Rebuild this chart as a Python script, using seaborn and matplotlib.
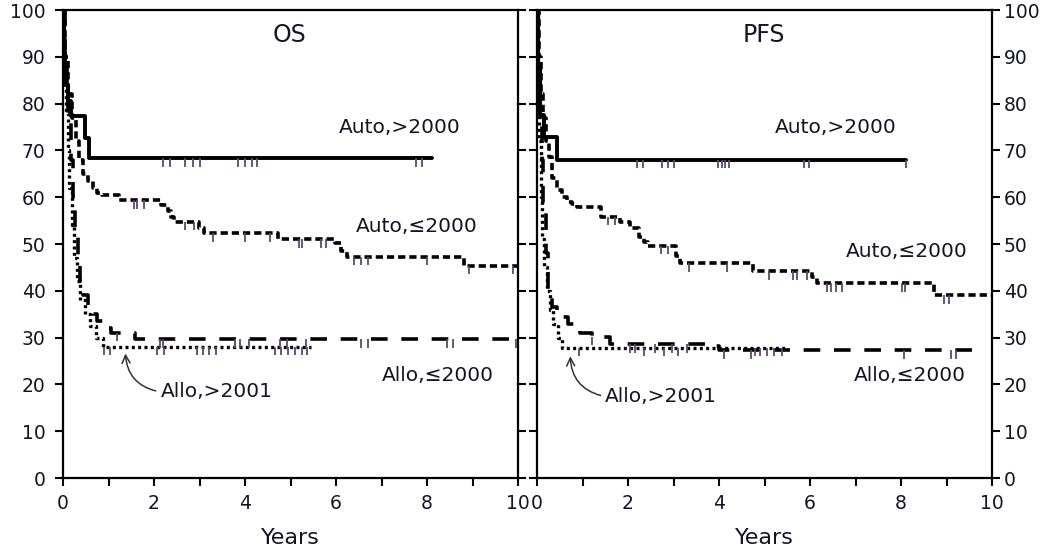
import numpy as np
import pandas as pd
import matplotlib
matplotlib.use("Agg")
import matplotlib.pyplot as plt
from matplotlib.path import Path
import seaborn as sns

# ---------------- data ----------------
years_ticks = [0, 2, 4, 6, 8, 10]
pct_ticks = [0, 10, 20, 30, 40, 50, 60, 70, 80, 90, 100]

# OS panel
os_auto_new_t = [0, 0.02, 0.05, 0.10, 0.18, 0.48, 0.58, 8.12]
os_auto_new_s = [100, 90, 84, 80.5, 77.3, 72.7, 68.3, 68.3]
os_auto_new_c = [2.2, 2.35, 2.69, 2.85, 3.02, 3.85, 4.0, 4.15, 4.27, 7.75, 7.88]

os_auto_old_t = [0, 0.05, 0.12, 0.2, 0.28, 0.35, 0.45, 0.55, 0.65, 0.75, 0.85, 1.22, 2.15,
                 2.3, 2.38, 2.45, 2.98, 3.1, 4.72, 5.98, 6.1, 6.25, 8.82, 10.0]
os_auto_old_s = [100, 90, 82, 77, 72, 68, 65, 63.5, 62, 61, 60.5, 59.4, 58.3,
                 57, 55.8, 54.8, 53.4, 52.3, 51.0, 50.2, 48.5, 47.3, 45.4, 45.4]
os_auto_old_c = [1.55, 1.62, 1.77, 2.69, 2.87, 3.3, 4.0, 4.56, 5.19, 5.26, 5.67, 5.78,
                 6.4, 6.55, 6.7, 8.0, 8.93, 9.9]

os_allo_old_t = [0, 0.04, 0.08, 0.12, 0.17, 0.22, 0.27, 0.32, 0.38, 0.45, 0.55, 0.65,
                 0.75, 0.88, 1.05, 1.58, 10.0]
os_allo_old_s = [100, 90, 82, 76, 68, 60, 52, 46, 42, 39, 37, 35, 33.5, 32, 31, 29.6, 29.6]
os_allo_old_c = [1.18, 2.14, 2.2, 3.78, 3.9, 4.08, 4.78, 4.93, 5.35, 6.55, 6.7, 8.45, 8.58, 9.96]

os_allo_new_t = [0, 0.03, 0.06, 0.1, 0.14, 0.19, 0.24, 0.3, 0.38, 0.48, 0.6, 0.72, 0.87, 5.44]
os_allo_new_s = [100, 88, 78, 70, 62, 54, 47, 42, 38, 35, 32.5, 30, 28, 28]
os_allo_new_c = [0.9, 1.03, 2.07, 2.22, 2.94, 3.07, 3.2, 3.36, 4.67, 4.8, 4.95, 5.1, 5.25, 5.37]

# PFS panel
pfs_auto_new_t = [0, 0.03, 0.06, 0.15, 0.44, 8.12]
pfs_auto_new_s = [100, 88, 77.5, 72.9, 68.0, 68.0]
pfs_auto_new_c = [2.2, 2.33, 2.75, 2.88, 3.0, 3.98, 4.06, 4.14, 4.22, 5.86, 5.98, 8.12]

pfs_auto_old_t = [0, 0.04, 0.08, 0.14, 0.2, 0.27, 0.33, 0.45, 0.55, 0.65, 0.78, 0.88, 1.4,
                  1.82, 2.04, 2.25, 2.35, 2.45, 3.05, 3.15, 4.75, 6.05, 6.15, 8.72, 10.0]
pfs_auto_old_s = [100, 90, 82, 77, 72, 68.5, 64, 61.5, 60, 59, 58.5, 58, 55.8,
                  54.8, 53.4, 51.5, 50.5, 49.6, 47.5, 45.9, 44.2, 43, 41.6, 39.1, 39.1]
pfs_auto_old_c = [1.57, 1.71, 2.72, 2.88, 3.33, 4.17, 5.1, 5.63, 5.72, 5.93, 6.37, 6.46,
                  6.57, 6.7, 8.02, 8.08, 8.95, 9.06]

pfs_allo_old_t = [0, 0.03, 0.06, 0.1, 0.14, 0.19, 0.25, 0.32, 0.45, 0.68, 0.95, 1.2, 1.6,
                  3.85, 4.0, 9.75]
pfs_allo_old_s = [100, 88, 78, 68, 58, 48, 40, 36.5, 34.5, 33, 31, 30.2, 28.6, 28.2, 27.3, 27.3]
pfs_allo_old_c = [1.21, 2.05, 2.15, 2.6, 2.97, 3.3, 4.1, 4.7, 8.06, 9.1, 9.2]

pfs_allo_new_t = [0, 0.02, 0.05, 0.08, 0.12, 0.16, 0.21, 0.28, 0.36, 0.46, 0.55, 5.45]
pfs_allo_new_s = [100, 86, 72, 60, 51, 45, 40, 36, 33, 30, 27.8, 27.8]
pfs_allo_new_c = [0.93, 2.35, 2.8, 3.1, 4.8, 4.9, 5.05, 5.2, 5.38]

titles = ["OS", "PFS"]
lab_auto_new = "Auto,>2000"
lab_auto_old = "Auto,\u22642000"
lab_allo_old = "Allo,\u22642000"
lab_allo_new = "Allo,>2001"

# ---------------- styling ----------------
sns.set_style("ticks")
plt.rcParams["font.family"] = ["DejaVu Sans"]
plt.rcParams["axes.linewidth"] = 1.6

INK = "black"
TXT = "#141428"
CENS = "#5f4870"
widths = {"auto_new": 2.8, "auto_old": 2.6, "allo_old": 2.6, "allo_new": 2.4}
styles = {
    "auto_new": "-",
    "auto_old": (0, (2.0, 1.1)),
    "allo_old": (0, (4.6, 3.8)),
    "allo_new": (0, (0.9, 1.0)),
}
hang = Path([(0, 0), (0, -1)], [Path.MOVETO, Path.LINETO])

fig = plt.figure(figsize=(10.5, 5.48), dpi=100)
ax1 = fig.add_axes([63 / 1050, 1 - 478 / 548, 455 / 1050, 468 / 548])
ax2 = fig.add_axes([537 / 1050, 1 - 478 / 548, 455 / 1050, 468 / 548])

panels = [
    (ax1, [("auto_new", os_auto_new_t, os_auto_new_s, os_auto_new_c),
           ("auto_old", os_auto_old_t, os_auto_old_s, os_auto_old_c),
           ("allo_old", os_allo_old_t, os_allo_old_s, os_allo_old_c),
           ("allo_new", os_allo_new_t, os_allo_new_s, os_allo_new_c)]),
    (ax2, [("auto_new", pfs_auto_new_t, pfs_auto_new_s, pfs_auto_new_c),
           ("auto_old", pfs_auto_old_t, pfs_auto_old_s, pfs_auto_old_c),
           ("allo_old", pfs_allo_old_t, pfs_allo_old_s, pfs_allo_old_c),
           ("allo_new", pfs_allo_new_t, pfs_allo_new_s, pfs_allo_new_c)]),
]

for ax, curves in panels:
    for key, t, s, c in curves:
        df = pd.DataFrame({"t": t, "s": s})
        sns.lineplot(data=df, x="t", y="s", ax=ax, estimator=None, sort=False,
                     drawstyle="steps-post", color=INK, linewidth=widths[key],
                     linestyle=styles[key], zorder=3)
        tt = np.asarray(t)
        ss = np.asarray(s)
        idx = np.searchsorted(tt, np.asarray(c), side="right") - 1
        cdf = pd.DataFrame({"t": c, "s": ss[np.clip(idx, 0, len(ss) - 1)]})
        sns.scatterplot(data=cdf, x="t", y="s", ax=ax, marker=hang, s=150,
                        facecolor="none", edgecolor=CENS, linewidth=1.3, zorder=4,
                        legend=False)

for i, ax in enumerate([ax1, ax2]):
    ax.set_xlim(0, 10)
    ax.set_ylim(0, 100)
    ax.set_xticks(years_ticks)
    ax.set_xticks([1, 3, 5, 7, 9], minor=True)
    ax.set_yticks(pct_ticks)
    ax.tick_params(axis="both", which="both", direction="out", length=5.5, width=1.5,
                   colors=INK, labelsize=13.5, labelcolor=TXT)
    ax.tick_params(axis="x", which="major", pad=6)
    ax.tick_params(axis="y", left=True, right=True)
    for sp in ax.spines.values():
        sp.set_visible(True)
        sp.set_linewidth(1.6)
        sp.set_color(INK)
    ax.set_xlabel("Years", fontsize=16, labelpad=11, color=TXT)
    ax.set_ylabel("")
    ax.text(4.98, 94.7, titles[i], ha="center", va="center", fontsize=17, color=TXT)

ax1.tick_params(axis="y", labelleft=True, labelright=False, pad=7)
ax2.tick_params(axis="y", labelleft=False, labelright=True, pad=3)

TS = 14.5
# OS labels
ax1.text(7.39, 74.8, lab_auto_new, ha="center", va="center", fontsize=TS, color=TXT)
ax1.text(7.78, 53.8, lab_auto_old, ha="center", va="center", fontsize=TS, color=TXT)
ax1.text(8.23, 22.0, lab_allo_old, ha="center", va="center", fontsize=TS, color=TXT)
ax1.annotate(lab_allo_new, xy=(1.37, 26.9), xytext=(2.14, 18.4), ha="left", va="center",
             fontsize=TS, color=TXT,
             arrowprops=dict(arrowstyle="->", color="#333333", lw=1.1,
                             connectionstyle="arc3,rad=-0.4", relpos=(0, 0.5),
                             shrinkA=1, shrinkB=1))
# PFS labels
ax2.text(6.56, 74.8, lab_auto_new, ha="center", va="center", fontsize=TS, color=TXT)
ax2.text(8.13, 48.4, lab_auto_old, ha="center", va="center", fontsize=TS, color=TXT)
ax2.text(8.2, 22.0, lab_allo_old, ha="center", va="center", fontsize=TS, color=TXT)
ax2.annotate(lab_allo_new, xy=(0.73, 26.3), xytext=(1.5, 17.4), ha="left", va="center",
             fontsize=TS, color=TXT,
             arrowprops=dict(arrowstyle="->", color="#333333", lw=1.1,
                             connectionstyle="arc3,rad=-0.4", relpos=(0, 0.5),
                             shrinkA=1, shrinkB=1))

fig.savefig("out.png", dpi=100, facecolor="white")
